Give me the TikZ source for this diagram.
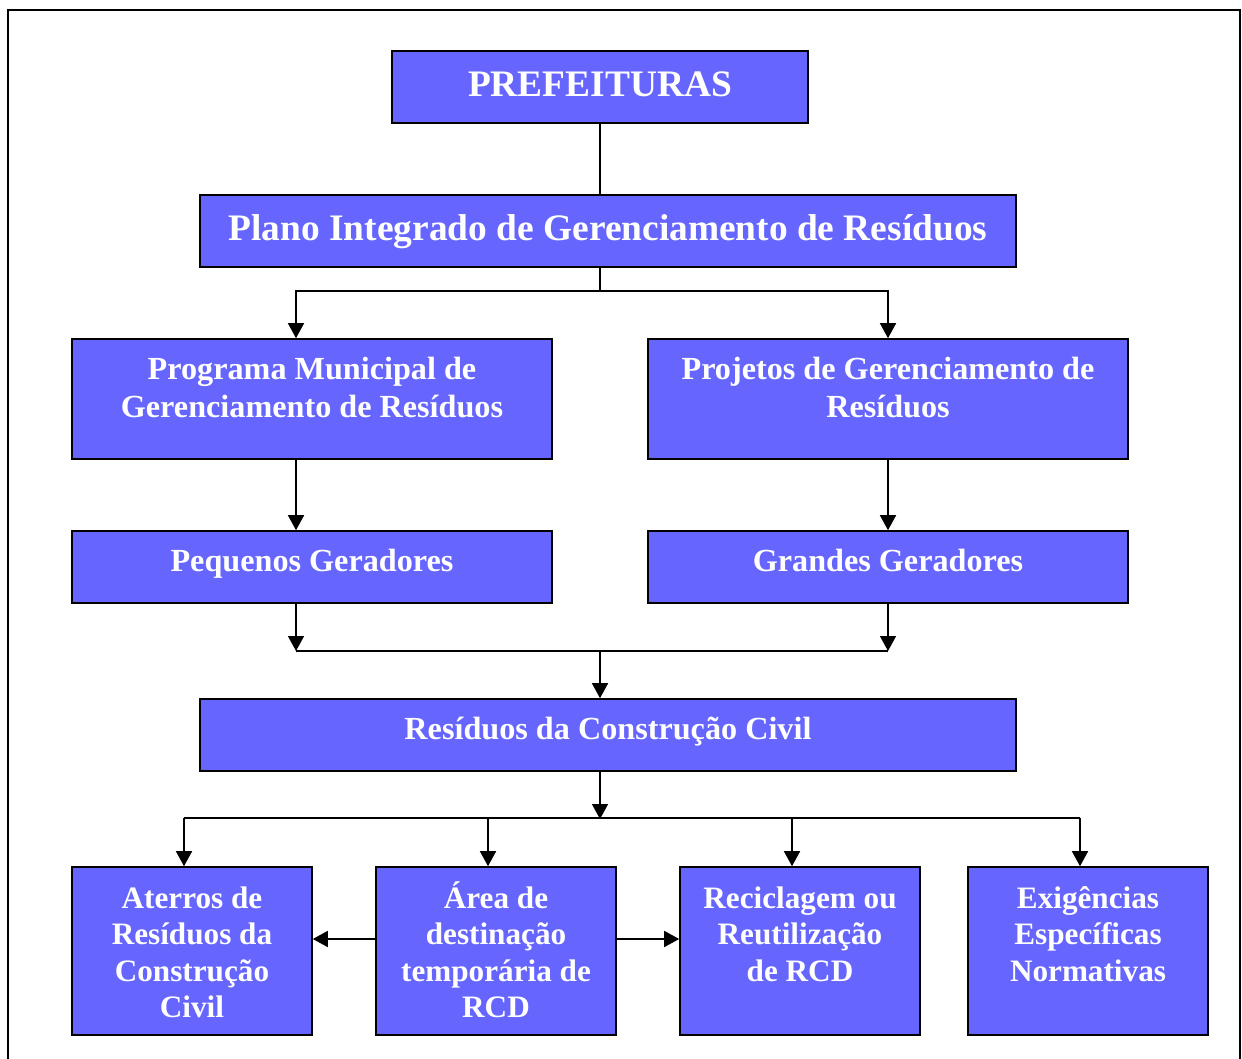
\documentclass[tikz,border=0pt]{standalone}
\usepackage{fontspec}
\setmainfont{Liberation Serif}
\usetikzlibrary{arrows.meta, calc}
\definecolor{azul}{RGB}{102,102,255}
% texto no topo da caixa: largura, altura, primeira linha, texto
\newcommand{\caixatexto}[4]{\parbox[c][#2][t]{#1}{\centering\rule{0pt}{#3}#4}}

\begin{document}
\begin{tikzpicture}[x=1pt, y=-1pt,
  caixa/.style={draw=black, line width=1.6pt, fill=azul, text=white, inner sep=0pt},
  grande/.style={caixa, font=\fontsize{37.4}{44}\selectfont\bfseries},
  media/.style={caixa, font=\fontsize{32.2}{38}\selectfont\bfseries},
  menor/.style={caixa, font=\fontsize{31.2}{36.5}\selectfont\bfseries},
  liga/.style={line width=1.6pt},
  seta/.style={liga, -{Triangle[width=16pt, length=15pt]}}]
\useasboundingbox (0,0) rectangle (1242,1059);
\draw[line width=2pt] (8,1062) -- (8,10) -- (1240,10) -- (1240,1062);

\node[grande] (pref) at (600,87) {\caixatexto{416pt}{72pt}{46pt}{PREFEITURAS}};
\node[grande] (plano) at (608,231) {\caixatexto{816pt}{72pt}{46pt}{Plano Integrado de Gerenciamento de Resíduos}};
\node[media] (programa) at (312,399) {\caixatexto{480pt}{120pt}{40pt}{Programa Municipal de\\Gerenciamento de Resíduos}};
\node[media] (projetos) at (888,399) {\caixatexto{480pt}{120pt}{40pt}{Projetos de Gerenciamento de\\Resíduos}};
\node[media] (pequenos) at (312,567) {\caixatexto{480pt}{72pt}{40pt}{Pequenos Geradores}};
\node[media] (grandes) at (888,567) {\caixatexto{480pt}{72pt}{40pt}{Grandes Geradores}};
\node[media] (residuos) at (608,735) {\caixatexto{816pt}{72pt}{40pt}{Resíduos da Construção Civil}};
\node[menor] (aterros) at (192,951) {\caixatexto{240pt}{168pt}{41pt}{Aterros de\\Resíduos da\\Construção\\Civil}};
\node[menor] (area) at (496,951) {\caixatexto{240pt}{168pt}{41pt}{Área de\\destinação\\temporária de\\RCD}};
\node[menor] (recicla) at (800,951) {\caixatexto{240pt}{168pt}{41pt}{Reciclagem ou\\Reutilização\\de RCD}};
\node[menor] (exig) at (1088,951) {\caixatexto{240pt}{168pt}{41pt}{Exigências\\Específicas\\Normativas}};

\coordinate (ramoE) at (296,291);
\coordinate (ramoD) at (888,291);
\coordinate (juntaE) at (296,651);
\coordinate (juntaD) at (888,651);
\coordinate (junta) at (600,651);
\coordinate (base) at (600,819);

\draw[liga] (pref.south) -- (pref.south |- plano.north);
\draw[seta] (pref.south |- plano.south) |- (ramoE) -- (ramoE |- programa.north);
\draw[seta] (pref.south |- plano.south) |- (ramoD) -- (ramoD |- projetos.north);
\draw[seta] (ramoE |- programa.south) -- (ramoE |- pequenos.north);
\draw[seta] (ramoD |- projetos.south) -- (ramoD |- grandes.north);
\draw[seta] (ramoE |- pequenos.south) -- (juntaE);
\draw[seta] (ramoD |- grandes.south) -- (juntaD);
\draw[liga] (juntaE) -- (juntaD);
\draw[seta] (junta) -- (junta |- residuos.north);
\draw[seta] (base |- residuos.south) -- (base);
\draw[liga] ($(aterros.north)+(-8,-48)$) -- ($(exig.north)+(-8,-48)$);
\foreach \nome in {aterros, area, recicla, exig}
  \draw[seta] ($(\nome.north)+(-8,-48)$) -- ($(\nome.north)+(-8,0)$);
\draw[seta] ($(area.west)+(0,-12)$) -- ($(aterros.east)+(0,-12)$);
\draw[seta] ($(area.east)+(0,-12)$) -- ($(recicla.west)+(0,-12)$);
\end{tikzpicture}
\end{document}
